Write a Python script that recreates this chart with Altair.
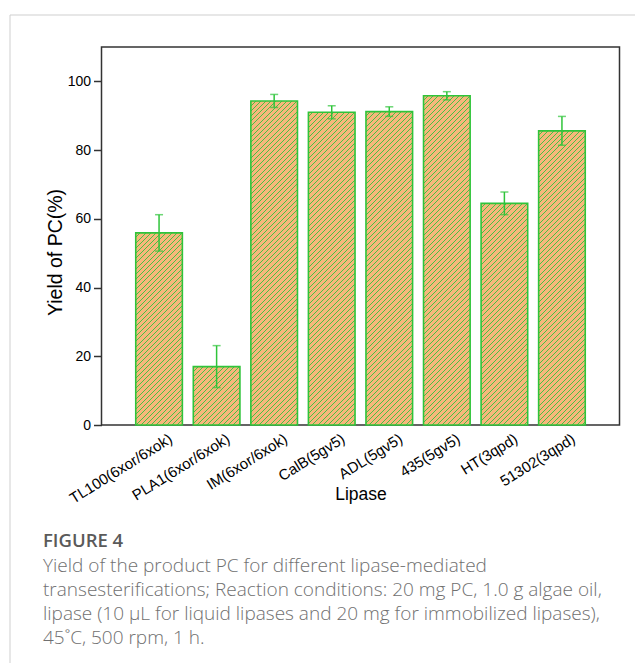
import altair as alt
import pandas as pd

# ---------------- data ----------------
lipases = ["TL100(6xor/6xok)", "PLA1(6xor/6xok)", "IM(6xor/6xok)", "CalB(5gv5)",
           "ADL(5gv5)", "435(5gv5)", "HT(3qpd)", "51302(3qpd)"]
yields = [55.9, 17.0, 94.3, 91.0, 91.2, 95.8, 64.5, 85.6]
errors = [5.3, 6.1, 1.9, 1.9, 1.4, 1.2, 3.3, 4.2]
y_ticks = [0, 20, 40, 60, 80, 100]

x_title = "Lipase"
y_title = "Yield of PC(%)"
fig_label = "FIGURE 4"
caption_lines = [
    "Yield of the product PC for different lipase-mediated",
    "transesterifications; Reaction conditions: 20 mg PC, 1.0 g algae oil,",
    "lipase (10 \u00b5L for liquid lipases and 20 mg for immobilized lipases),",
    "45\u02daC, 500 rpm, 1 h.",
]

# ---------------- style / layout ----------------
PLOT_W = 518
PLOT_H = 378
Y_MAX = 110
PAD_INNER = 0.19
PAD_OUTER = 0.5 + PAD_INNER / 2
GREEN = "#2fc43a"
ORANGE = "#f7b77b"
HATCH = "#48c044"
FONT = "Liberation Sans"
CAP_FONT = "Open Sans"

df = pd.DataFrame({"lipase": lipases, "value": yields, "err": errors})

step = PLOT_W / (len(lipases) - PAD_INNER + 2 * PAD_OUTER)
bar_w = step * (1 - PAD_INNER)


def hatch_fill(h_px, period=5.2, line=1.0):
    w = bar_w
    h = max(h_px, 1.0)
    span = w + h
    stops = []
    k = 0
    while k * period < span:
        a = k * period / span
        b = min((k * period + period - line) / span, 1.0)
        c = min((k + 1) * period / span, 1.0)
        stops.append({"offset": round(min(a, 1.0), 5), "color": ORANGE})
        stops.append({"offset": round(b, 5), "color": ORANGE})
        stops.append({"offset": round(b, 5), "color": HATCH})
        stops.append({"offset": round(c, 5), "color": HATCH})
        k += 1
    den = w * w + h * h
    return {
        "gradient": "linear",
        "x1": 0, "y1": 0,
        "x2": round(w * span / den, 6),
        "y2": round(h * span / den, 6),
        "stops": stops,
    }


X = alt.X(
    "lipase:N",
    sort=lipases,
    scale=alt.Scale(domain=lipases, paddingInner=PAD_INNER, paddingOuter=PAD_OUTER),
    axis=alt.Axis(
        title=x_title, labelAngle=328, labelAlign="right", labelBaseline="top",
        labelOffset=8, labelPadding=6, ticks=False, tickSize=0, domain=False,
        labelFontSize=15, labelColor="#000", titleFontSize=17.5, titleFontWeight="normal",
        titleColor="#000", titleY=74, titleBaseline="alphabetic", labelFont=FONT,
        titleFont=FONT,
    ),
)

y_axis = alt.Axis(
    values=y_ticks, grid=False, domain=False, ticks=True, tickSize=8, tickWidth=1.5,
    tickColor="#333", labelPadding=3, labelFontSize=14, labelColor="#000",
    titleFontSize=19.5, titleFontWeight="normal", titleColor="#000", titleX=-46,
    titleY=205, titleBaseline="middle", labelFont=FONT, titleFont=FONT,
)
yscale = alt.Scale(domain=[0, Y_MAX], nice=False, zero=True)

layers = []
for name, v in zip(lipases, yields):
    layers.append(
        alt.Chart(df)
        .transform_filter(alt.datum.lipase == name)
        .mark_bar(fill=hatch_fill(v / Y_MAX * PLOT_H), stroke=GREEN, strokeWidth=1.6)
        .encode(x=X, y=alt.Y("value:Q", scale=yscale, axis=y_axis, title=y_title))
    )

err_base = alt.Chart(df).transform_calculate(
    lo="datum.value - datum.err", hi="datum.value + datum.err"
)
layers.append(
    err_base.mark_rule(color=GREEN, strokeWidth=1.5).encode(
        x=X, y=alt.Y("lo:Q", scale=yscale, axis=y_axis, title=y_title), y2="hi:Q"
    )
)
for f in ["lo", "hi"]:
    layers.append(
        err_base.mark_tick(color=GREEN, size=8, thickness=1.5).encode(
            x=X, y=alt.Y(f + ":Q", scale=yscale, axis=y_axis, title=y_title)
        )
    )

dummy = pd.DataFrame({"k": [0]})
# card border
layers.append(
    alt.Chart(dummy).mark_rule(color="#cfcfcf", strokeWidth=1).encode(
        x=alt.value(-91.5), x2=alt.value(560), y=alt.value(-32)
    )
)
layers.append(
    alt.Chart(dummy).mark_rule(color="#cfcfcf", strokeWidth=1).encode(
        x=alt.value(-91.5), y=alt.value(-32), y2=alt.value(640)
    )
)
# caption
layers.append(
    alt.Chart(dummy).mark_text(
        align="left", baseline="alphabetic", font=CAP_FONT, fontSize=18.5,
        fontWeight=600, color="#5a5a5a",
    ).encode(x=alt.value(-58.5), y=alt.value(499.5), text=alt.value(fig_label))
)
layers.append(
    alt.Chart(dummy).mark_text(
        align="left", baseline="alphabetic", font=CAP_FONT, fontSize=19,
        fontWeight=300, color="#707070", lineBreak="\n", lineHeight=24,
    ).encode(x=alt.value(-58.5), y=alt.value(525), text=alt.value("\n".join(caption_lines)))
)

chart = (
    alt.layer(*layers)
    .properties(
        width=PLOT_W,
        height=PLOT_H,
        autosize=alt.AutoSizeParams(type="none"),
        padding={"left": 93.5, "top": 39, "right": 15.5, "bottom": 238},
        background="white",
    )
    .configure_view(stroke="#333", strokeWidth=1.5)
)

chart.save("out.html", embed_options={"renderer": "svg", "actions": False})
